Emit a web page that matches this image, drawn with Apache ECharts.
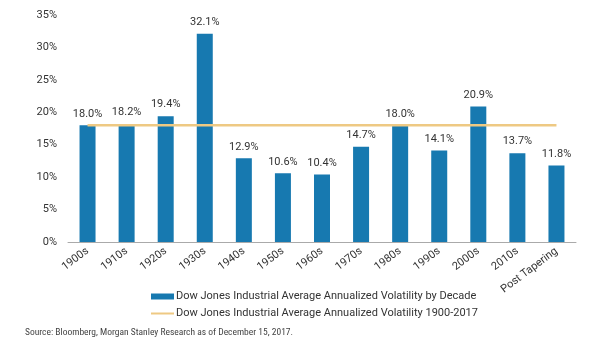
<!DOCTYPE html>
<html>
<head>
<meta charset="utf-8">
<script src="https://cdn.jsdelivr.net/npm/echarts@6.0.0/dist/echarts.min.js"></script>
<style>
  html, body { margin: 0; padding: 0; background: #fff; }
  #chart { width: 600px; height: 353px; }
</style>
</head>
<body>
<div id="chart"></div>
<script>
  var decades = ['1900s', '1910s', '1920s', '1930s', '1940s', '1950s', '1960s',
    '1970s', '1980s', '1990s', '2000s', '2010s', 'Post Tapering'];
  var volatility = [18.0, 18.2, 19.4, 32.1, 12.9, 10.6, 10.4, 14.7, 18.0, 14.1, 20.9, 13.7, 11.8];
  var longRunAvg = [18.0, 18.0, 18.0, 18.0, 18.0, 18.0, 18.0, 18.0, 18.0, 18.0, 18.0, 18.0, 18.0];
  var barName = 'Dow Jones Industrial Average Annualized Volatility by Decade';
  var lineName = 'Dow Jones Industrial Average Annualized Volatility 1900-2017';

  var narrow = "'Liberation Sans Narrow', 'Roboto Condensed', 'DejaVu Sans Condensed', Roboto";

  var chart = echarts.init(document.getElementById('chart'));
  chart.setOption({
    animation: false,
    textStyle: { fontFamily: 'Roboto' },
    grid: { left: 68, right: 24, top: 15, bottom: 111 },
    legend: {
      orient: 'vertical',
      left: 145,
      top: 286,
      itemGap: 6,
      itemWidth: 23,
      itemHeight: 6,
      textStyle: { fontSize: 11, color: '#333', padding: [0, 0, 0, -3] },
      data: [
        { name: barName, icon: 'rect' },
        { name: lineName, itemStyle: { opacity: 0 } }
      ]
    },
    graphic: [{
      type: 'text',
      left: 25,
      top: 328,
      style: {
        text: 'Source: Bloomberg, Morgan Stanley Research as of December 15, 2017.',
        fontSize: 9.5,
        fill: '#444',
        fontFamily: narrow
      }
    }],
    xAxis: {
      type: 'category',
      data: decades,
      axisLine: { lineStyle: { color: '#aaa' } },
      axisTick: { show: false },
      axisLabel: { interval: 0, rotate: 37, fontSize: 11, color: '#333', margin: 8 }
    },
    yAxis: {
      type: 'value',
      min: 0,
      max: 35,
      interval: 5,
      splitLine: { show: false },
      axisLine: { show: false },
      axisTick: { show: false },
      axisLabel: { formatter: '{value}%', fontSize: 11, color: '#333', margin: 11 }
    },
    series: [
      {
        name: barName,
        type: 'bar',
        data: volatility,
        barWidth: 16,
        itemStyle: { color: '#1779b0' },
        label: {
          show: true,
          position: 'top',
          distance: 6,
          fontSize: 11,
          color: '#333',
          formatter: function (p) { return p.value.toFixed(1) + '%'; }
        }
      },
      {
        name: lineName,
        type: 'line',
        data: longRunAvg,
        symbol: 'none',
        lineStyle: { color: '#eec983', width: 2.5 },
        itemStyle: { color: '#eec983' },
        z: 3
      }
    ]
  });
</script>
</body>
</html>
